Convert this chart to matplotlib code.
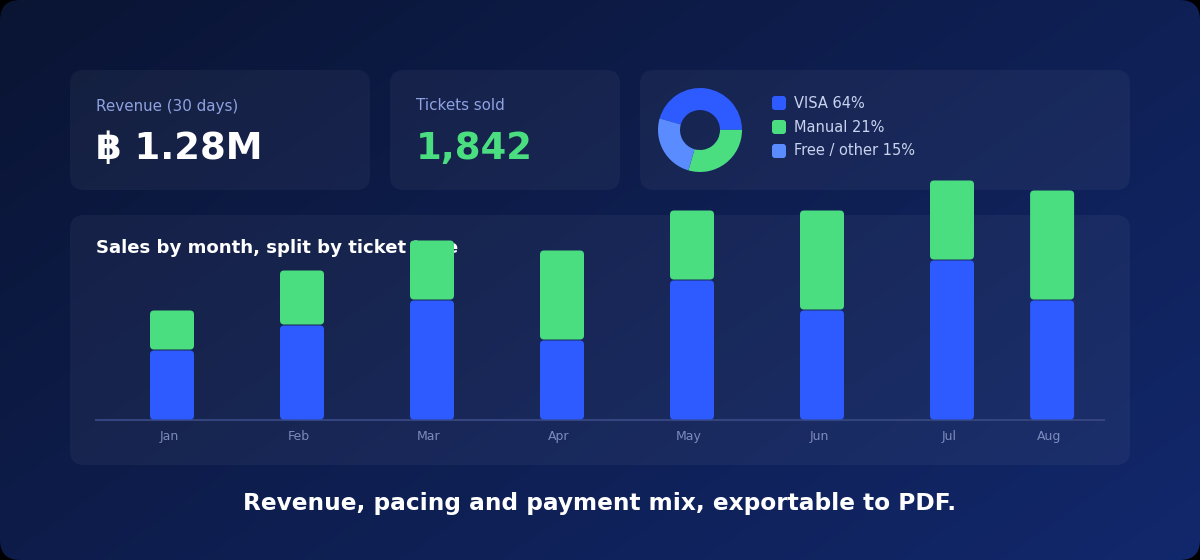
import matplotlib
matplotlib.use('Agg')
import matplotlib.pyplot as plt
import numpy as np
from matplotlib.patches import FancyBboxPatch
from matplotlib.transforms import ScaledTranslation

# ---------------- data ----------------
months = ['Jan', 'Feb', 'Mar', 'Apr', 'May', 'Jun', 'Jul', 'Aug']
visa_sales = [7, 9.5, 12, 8, 14, 11, 16, 12]
manual_sales = [4, 5.5, 6, 9, 7, 10, 8, 11]
mix_labels = ['VISA 64%', 'Manual 21%', 'Free / other 15%']
mix_shares = [45.5, 29.5, 25.0]
kpi_titles = ['Revenue (30 days)', 'Tickets sold']
kpi_values = ['฿ 1.28M', '1,842']
chart_title = 'Sales by month, split by ticket type'
footer_text = 'Revenue, pacing and payment mix, exportable to PDF.'

# ---------------- layout / style ----------------
slots = [0, 1, 2, 3, 4, 5, 6, 6.77]
BLUE = '#2d5bff'
GREEN = '#4ade80'
LIGHT = '#5b8cff'
mix_colors = [BLUE, GREEN, LIGHT]
FAM = ['DejaVu Sans', 'Noto Sans']
W, H = 1200, 560

fig = plt.figure(figsize=(12, 5.6), dpi=100, facecolor='#000000')
bg = fig.add_axes([0, 0, 1, 1])
bg.set_xlim(0, W)
bg.set_ylim(H, 0)
bg.axis('off')

# gradient background clipped to rounded rect
yy, xx = np.mgrid[0:H, 0:W]
t = (xx / W * 0.6 + yy / H * 0.4)
c0 = np.array([0x0a, 0x14, 0x33]) / 255
c1 = np.array([0x12, 0x28, 0x6c]) / 255
img = c0[None, None, :] * (1 - t[..., None]) + c1[None, None, :] * t[..., None]
im = bg.imshow(img, extent=(0, W, H, 0), zorder=0, interpolation='bilinear')
outer = FancyBboxPatch((0, 0), W, H, boxstyle='round,pad=0,rounding_size=20',
                       transform=bg.transData, facecolor='none', edgecolor='none')
bg.add_patch(outer)
im.set_clip_path(outer)


def card(x0, y0, x1, y1):
    p = FancyBboxPatch((x0, y0), x1 - x0, y1 - y0,
                       boxstyle='round,pad=0,rounding_size=14',
                       facecolor=(1, 1, 1, 0.045), edgecolor='none', zorder=1)
    bg.add_patch(p)


card(70, 70, 370, 190)
card(390, 70, 620, 190)
card(640, 70, 1130, 190)
card(70, 215, 1130, 465)

renderer = fig.canvas.get_renderer()


def fit(txt, target):
    w = txt.get_window_extent(renderer).width
    txt.set_fontsize(txt.get_fontsize() * target / w)


LABEL_C = '#8ea2e2'
t1 = bg.text(96, 106, kpi_titles[0], color=LABEL_C, fontsize=11.25, va='center',
             ha='left', family=FAM, zorder=3)
fit(t1, 143)
t2 = bg.text(416, 106, kpi_titles[1], color=LABEL_C, fontsize=t1.get_fontsize(),
             va='center', ha='left', family=FAM, zorder=3)
v1 = bg.text(96, 159, kpi_values[0], color='white', fontsize=27.5, fontweight='bold',
             va='baseline', ha='left', family=FAM, zorder=3)
fit(v1, 167)
v2 = bg.text(416, 159, kpi_values[1], color=GREEN, fontsize=v1.get_fontsize(),
             fontweight='bold', va='baseline', ha='left', family=FAM, zorder=3)

# legend
leg_y = [103, 127, 151]
for lab, col, yv in zip(mix_labels, mix_colors, leg_y):
    sq = FancyBboxPatch((772, yv - 7), 14, 14, boxstyle='round,pad=0,rounding_size=3',
                        facecolor=col, edgecolor='none', zorder=3)
    bg.add_patch(sq)
    lt = bg.text(794, yv, lab, color='#c9d3ef', fontsize=10.5, va='center', ha='left',
                 family=FAM, zorder=3)

# chart title
tt = bg.text(96, 253, chart_title, color='white', fontsize=13, fontweight='bold',
             va='baseline', ha='left', family=FAM, zorder=3)
fit(tt, 362)

# footer
ft = bg.text(600, 510, footer_text, color='white', fontsize=16.5, fontweight='bold',
             va='baseline', ha='center', family=FAM, zorder=3)
fit(ft, 709)

# donut
dcx, dcy, dr = 700, 130, 42
dax = fig.add_axes([(dcx - dr) / W, (H - dcy - dr) / H, 2 * dr / W, 2 * dr / H])
dax.pie(mix_shares, colors=mix_colors, startangle=164, counterclock=False,
        radius=1.0, wedgeprops=dict(width=22 / 42, edgecolor='none', linewidth=0))
dax.set_aspect('equal')
dax.set_xlim(-1, 1)
dax.set_ylim(-1, 1)
dax.axis('off')

# bar chart
base_px, top_px = 420, 180
left_px, right_px = 96, 1104
ax = fig.add_axes([left_px / W, (H - base_px) / H, (right_px - left_px) / W,
                   (base_px - top_px) / H])
ax.patch.set_alpha(0)
x_lo = -(172 - left_px) / 130
x_hi = (right_px - 172) / 130
ax.set_xlim(x_lo, x_hi)
ax.set_ylim(0, 24)
px_x = (right_px - left_px) / (x_hi - x_lo)
px_y = (base_px - top_px) / 24.0
bw = 44 / px_x

b1 = ax.bar(slots, visa_sales, width=bw, color=BLUE)
b2 = ax.bar(slots, manual_sales, width=bw, bottom=visa_sales, color=GREEN)
for bars, col in ((b1, BLUE), (b2, GREEN)):
    for r in bars:
        r.set_visible(False)
        gap = 0.5 / px_y
        fb = FancyBboxPatch((r.get_x(), r.get_y() + gap), r.get_width(),
                            r.get_height() - 2 * gap,
                            boxstyle='round,pad=0,rounding_size=%f' % (4 / px_x),
                            mutation_aspect=px_x / px_y,
                            facecolor=col, edgecolor='none', clip_on=False, zorder=3)
        ax.add_patch(fb)

for s in ('top', 'right', 'left'):
    ax.spines[s].set_visible(False)
ax.spines['bottom'].set_color('#34447e')
ax.spines['bottom'].set_linewidth(1.5)
ax.spines['bottom'].set_zorder(2)
ax.set_yticks([])
ax.set_xticks(slots)
ax.set_xticklabels(months, color='#7c8bbd', fontsize=9, family=FAM)
ax.tick_params(axis='x', length=0, pad=7)
off = ScaledTranslation(-3 / 100, 0, fig.dpi_scale_trans)
for lab in ax.get_xticklabels():
    lab.set_transform(lab.get_transform() + off)

fig.savefig('out.png', dpi=100, facecolor=fig.get_facecolor())
